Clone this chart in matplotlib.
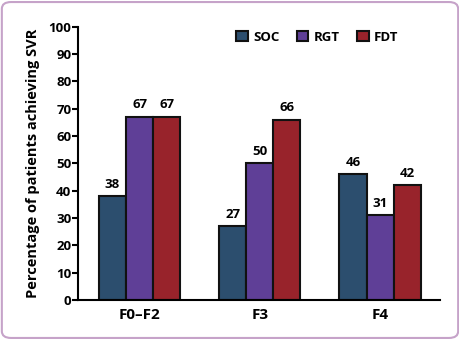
import numpy as np
import matplotlib.pyplot as plt
from matplotlib.patches import FancyBboxPatch

groups = ['F0\u2013F2', 'F3', 'F4']
series = ['SOC', 'RGT', 'FDT']
soc = [38, 27, 46]
rgt = [67, 50, 31]
fdt = [67, 66, 42]
colors = ['#2c4e6e', '#5f3f97', '#98232b']

plt.rcParams['font.family'] = ['Open Sans', 'DejaVu Sans']
plt.rcParams['font.weight'] = 'bold'

fig = plt.figure(figsize=(4.6, 3.4), dpi=100)
# rounded purple frame
frame = FancyBboxPatch((0.004, 0.006), 0.992, 0.988, boxstyle='round,pad=0,rounding_size=0.02',
                       transform=fig.transFigure, facecolor='white', edgecolor='#c6a3c9',
                       linewidth=1.5, zorder=-1)
fig.patches.append(frame)

ax = fig.add_axes([0.170, 0.118, 0.787, 0.803])
ax.patch.set_alpha(0)

x = np.arange(len(groups))
w = 0.225
for i, (name, vals) in enumerate(zip(series, [soc, rgt, fdt])):
    pos = x + (i - 1) * w
    ax.bar(pos, vals, width=w, color=colors[i], edgecolor='#111111', linewidth=1.5, label=name)
    for p, v in zip(pos, vals):
        ax.text(p, v + 2, str(v), ha='center', va='bottom', fontsize=9.5, fontweight='bold')

ax.set_xlim(-0.51, 2.5)
ax.set_ylim(0, 100)
ax.set_yticks(range(0, 101, 10))
ax.set_xticks(x)
ax.set_xticklabels(groups, fontsize=11, fontweight='bold')
ax.tick_params(axis='x', length=0, pad=6)
ax.tick_params(axis='y', length=4, width=1.5, labelsize=9.5, pad=1)
for lab in ax.get_yticklabels():
    lab.set_fontweight('bold')
ax.spines['top'].set_visible(False)
ax.spines['right'].set_visible(False)
ax.spines['left'].set_linewidth(1.5)
ax.spines['bottom'].set_linewidth(1.5)
ax.set_ylabel('Percentage of patients achieving SVR', fontsize=10.5, fontweight='bold', labelpad=6)

leg = ax.legend(loc='upper center', bbox_to_anchor=(0.66, 1.03), ncol=3, frameon=False,
                fontsize=9.5, handlelength=0.9, handleheight=0.9, handletextpad=0.4,
                columnspacing=1.3)

fig.savefig('out.png', dpi=100)
